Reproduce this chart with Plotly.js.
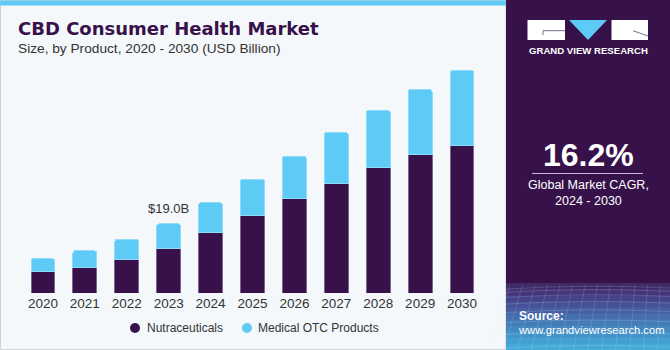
<!DOCTYPE html>
<html><head><meta charset="utf-8">
<script src="https://cdn.plot.ly/plotly-3.0.1.min.js"></script>
<style>html,body{margin:0;padding:0;background:#f4f8fb;}#chart{width:670px;height:350px;}</style>
</head><body><div id="chart"></div>
<script>
const years = ['2020','2021','2022','2023','2024','2025','2026','2027','2028','2029','2030'];
const nutraceuticals = [5.9, 7.0, 9.1, 12.3, 16.6, 21.3, 25.9, 30.2, 34.4, 38.0, 40.4];
const medicalOTC = [3.5, 4.6, 5.7, 6.7, 8.2, 10.0, 11.7, 13.9, 15.8, 17.9, 20.7];
const seriesNames = ['Nutraceuticals', 'Medical OTC Products'];
const highlightYear = '2023';
const highlightLabel = '$19.0B';
const cagrValue = '16.2%';
const cagrText = 'Global Market CAGR,<br>2024 - 2030';

const PURPLE = '#38114a', BLUE = '#5ecbf6';
const W = 670, H = 350, L = 22, R = 187, T = 60, B = 57;
const pw = W - L - R, ph = H - T - B;
const px = x => (x - L) / pw;
const py = y => (H - B - y) / ph;

const hi = years.indexOf(highlightYear);
const hiTotal = nutraceuticals[hi] + medicalOTC[hi];

const traces = [
  {type:'bar', x: years, y: nutraceuticals, name: seriesNames[0], showlegend:false,
   marker:{color: PURPLE, line:{color:'#7d6590', width:1}}},
  {type:'bar', x: years, y: medicalOTC, name: seriesNames[1], showlegend:false,
   marker:{color: BLUE, line:{color:'#8fdcfa', width:1}}}
];

const shapes = [
  {type:'rect', xref:'paper', yref:'paper', x0:px(0.5), x1:px(506), y0:py(349.5), y1:py(0.5), line:{color:'#cfd4d9', width:1}, fillcolor:'rgba(0,0,0,0)', layer:'below'},
  {type:'rect', xref:'paper', yref:'paper', x0:px(0), x1:px(506), y0:py(5.5), y1:py(0.5), line:{width:0}, fillcolor: BLUE},
  {type:'rect', xref:'paper', yref:'paper', x0:px(506), x1:px(670), y0:py(350), y1:py(0), line:{width:0}, fillcolor:'#37124a'},
];
const bandColors = ['#3f2a66','#44357a','#46438a','#475196','#475fa2','#466dad','#457bb7','#4488c1','#4494ca','#44a0d2','#46aad9'];
const bandTop = 283, bandH = (350 - bandTop) / bandColors.length;
bandColors.forEach((c, i) => {
  shapes.push({type:'rect', xref:'paper', yref:'paper', x0:px(506), x1:px(670),
    y0:py(bandTop + (i + 1) * bandH + 0.5), y1:py(bandTop + i * bandH), line:{width:0}, fillcolor:c});
});
for (let i = 0; i < 9; i++) {
  const yy = 287 + i * i * 0.85 + i * 2.5;
  shapes.push({type:'path', xref:'paper', yref:'paper',
    path:`M ${px(506)},${py(yy + 2)} Q ${px(588)},${py(yy - 3)} ${px(670)},${py(yy + 1)}`,
    line:{color:'rgba(215,230,250,0.22)', width:0.8}});
}
for (let i = 0; i < 14; i++) {
  const xx = 506 + i * 12.5;
  shapes.push({type:'line', xref:'paper', yref:'paper', x0:px(xx + 4), x1:px(xx - 6 + (i - 7) * 1.5), y0:py(285), y1:py(350),
    line:{color:'rgba(215,230,250,0.2)', width:0.8}});
}
shapes.push(
  {type:'rect', xref:'paper', yref:'paper', x0:px(527.5), x1:px(565), y0:py(40), y1:py(20), line:{width:0}, fillcolor:'#ffffff'},
  {type:'path', xref:'paper', yref:'paper', path:`M ${px(569)},${py(20)} L ${px(607)},${py(20)} L ${px(588)},${py(40)} Z`, line:{width:0}, fillcolor: BLUE},
  {type:'rect', xref:'paper', yref:'paper', x0:px(611.5), x1:px(648), y0:py(40), y1:py(20), line:{width:0}, fillcolor:'#ffffff'},
  {type:'path', xref:'paper', yref:'paper', path:`M ${px(543)},${py(30.7)} L ${px(565)},${py(30.7)} M ${px(543)},${py(30.7)} L ${px(543)},${py(35)}`, line:{color:'#7f6d8c', width:1}},
  {type:'path', xref:'paper', yref:'paper', path:`M ${px(633)},${py(30.7)} L ${px(648)},${py(36)}`, line:{color:'#7f6d8c', width:1}},
  {type:'line', xref:'paper', yref:'paper', x0:px(532), x1:px(643), y0:py(173.5), y1:py(173.5), line:{color:'#c9b8d6', width:1.2}}
);

const FONT = 'Liberation Sans, Arial, sans-serif';
const annotations = [
  {xref:'paper', yref:'paper', x:px(16), y:py(29), xanchor:'left', yanchor:'middle', showarrow:false,
   text:'<b>CBD Consumer Health Market</b>', font:{family:'DejaVu Sans, sans-serif', size:18, color:PURPLE}},
  {xref:'paper', yref:'paper', x:px(16), y:py(48.5), xanchor:'left', yanchor:'middle', showarrow:false,
   text:'Size, by Product, 2020 - 2030 (USD Billion)', font:{family:FONT, size:13.7, color:'#333333'}},
  {x: hi, y: hiTotal, xref:'x', yref:'y', yanchor:'bottom', yshift:6, showarrow:false,
   text: highlightLabel, font:{family:FONT, size:13, color:'#333333'}},
  {xref:'paper', yref:'paper', x:px(588), y:py(50), xanchor:'center', yanchor:'middle', showarrow:false,
   text:'<b>GRAND VIEW RESEARCH</b>', font:{family:FONT, size:9.6, color:'#ffffff'}},
  {xref:'paper', yref:'paper', x:px(588), y:py(155), xanchor:'center', yanchor:'middle', showarrow:false,
   text:'<b>' + cagrValue + '</b>', font:{family:FONT, size:32, color:'#ffffff'}},
  {xref:'paper', yref:'paper', x:px(588), y:py(193), xanchor:'center', yanchor:'middle', showarrow:false,
   text: cagrText, font:{family:FONT, size:12.5, color:'#ffffff'}},
  {xref:'paper', yref:'paper', x:px(517), y:py(315.5), xanchor:'left', yanchor:'middle', showarrow:false,
   text:'<b>Source:</b>', font:{family:FONT, size:12, color:'#ffffff'}},
  {xref:'paper', yref:'paper', x:px(516), y:py(329.5), xanchor:'left', yanchor:'middle', showarrow:false,
   text:'www.grandviewresearch.com', font:{family:FONT, size:11.2, color:'#ffffff'}}
];

const legendItems = [
  {name: seriesNames[0], color: PURPLE, cx: 135, tx: 145},
  {name: seriesNames[1], color: BLUE, cx: 247, tx: 256}
];
const ly = 328, r = 5;
legendItems.forEach(it => {
  shapes.push({type:'circle', xref:'paper', yref:'paper', x0:px(it.cx - r), x1:px(it.cx + r), y0:py(ly + r), y1:py(ly - r),
    line:{width:0}, fillcolor: it.color});
  annotations.push({xref:'paper', yref:'paper', x:px(it.tx), y:py(ly), xanchor:'left', yanchor:'middle', showarrow:false,
    text: it.name, font:{family:FONT, size:12, color:'#333333'}});
});

const layout = {
  width: W, height: H,
  margin:{l:L, r:R, t:T, b:B, pad:0, autoexpand:false},
  paper_bgcolor:'#f4f8fb', plot_bgcolor:'#f4f8fb',
  barmode:'stack', bargap:0.43, barcornerradius:3,
  font:{family:FONT, color:'#333333'},
  xaxis:{type:'category', range:[-0.5, 10.5], showgrid:false, zeroline:false, showline:false, ticks:'',
    tickfont:{family:FONT, size:13.5, color:'#333333'}, fixedrange:true, automargin:false},
  yaxis:{range:[0, 64], visible:false, showgrid:false, zeroline:false, fixedrange:true, automargin:false},
  showlegend:false,
  shapes: shapes,
  annotations: annotations
};

Plotly.newPlot('chart', traces, layout, {staticPlot:true, displayModeBar:false});
</script>
</body></html>
